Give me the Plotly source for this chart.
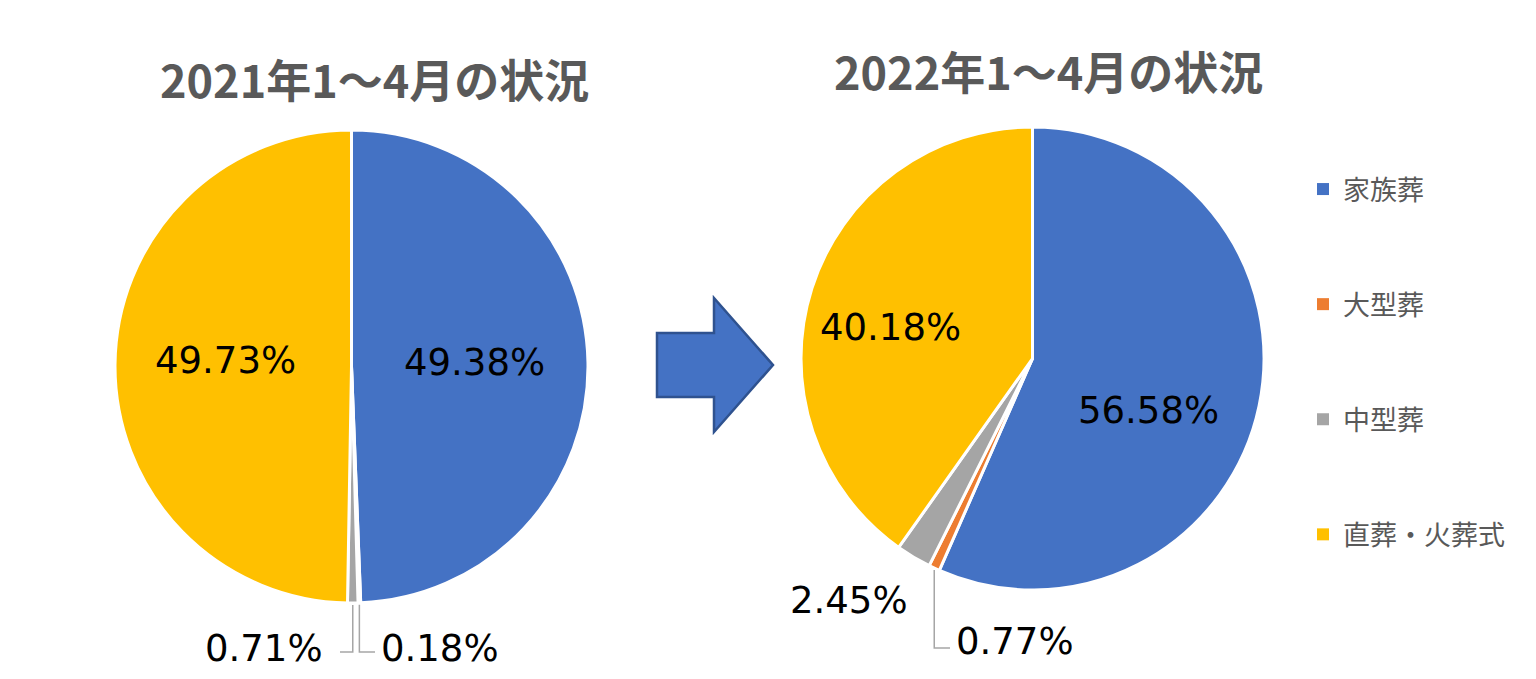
import math
import plotly.graph_objects as go

W, H = 1536, 679

categories = ["家族葬", "大型葬", "中型葬", "直葬・火葬式"]
colors = ["#4472C4", "#ED7D31", "#A5A5A5", "#FFC000"]
values_2021 = [49.38, 0.18, 0.71, 49.73]
values_2022 = [56.58, 0.77, 2.45, 40.18]
titles = ["2021年1～4月の状況", "2022年1～4月の状況"]


def X(px):
    return px / W


def Y(py):
    return 1 - py / H


fig = go.Figure()

# pie geometry in pixels: (left, top, right, bottom)
boxes = [(115, 130, 588, 603), (801, 127, 1264, 590)]


def pie(vals, box):
    l, t, r, b = box
    return go.Pie(
        labels=categories, values=vals, sort=False, direction="clockwise",
        rotation=0, marker=dict(colors=colors, line=dict(color="white", width=3)),
        textinfo="none",
        domain=dict(x=[X(l), X(r)], y=[Y(b), Y(t)]),
        showlegend=False, hoverinfo="label+percent",
    )


fig.add_trace(pie(values_2021, boxes[0]))
fig.add_trace(pie(values_2022, boxes[1]))

# legend entries
for i, (c, col) in enumerate(zip(categories, colors)):
    fig.add_trace(go.Scatter(
        x=[None], y=[None], mode="markers", name=c, legendgroup=str(i),
        marker=dict(symbol="square", size=12, color=col),
    ))

annotations = []
shapes = []

# titles
for ttl, cx, cy in [(titles[0], 374, 78), (titles[1], 1048, 71)]:
    annotations.append(dict(
        text=f"<b>{ttl}</b>", x=X(cx), y=Y(cy), xref="paper", yref="paper",
        showarrow=False, xanchor="center", yanchor="middle",
        font=dict(family="Noto Sans CJK JP", size=45, color="#595959"),
    ))


def slice_point(vals, idx, box):
    l, t, r, b = box
    cx, cy = (l + r) / 2, (t + b) / 2
    rad = min(r - l, b - t) / 2
    tot = sum(vals)
    start = sum(vals[:idx])
    mid = (start + vals[idx] / 2) / tot * 2 * math.pi
    return cx + rad * math.sin(mid), cy - rad * math.cos(mid)


lblfont = dict(family="DejaVu Sans", size=37, color="black")
lc = "#A6A6A6"


def label(text, x, y, anchor="center"):
    annotations.append(dict(text=text, x=X(x), y=Y(y), xref="paper", yref="paper",
                            showarrow=False, xanchor=anchor, yanchor="middle", font=lblfont))


# large slice labels
label(f"{values_2021[0]:.2f}%", 474, 362)
label(f"{values_2021[3]:.2f}%", 225, 360)
label(f"{values_2022[0]:.2f}%", 1148, 410)
label(f"{values_2022[3]:.2f}%", 890, 327)

# left pie small labels
px_, py_ = slice_point(values_2021, 1, boxes[0])
shapes.append(dict(type="path", xref="paper", yref="paper",
                   path=f"M {X(px_)} {Y(py_ + 2)} L {X(px_)} {Y(652)} L {X(375)} {Y(652)}",
                   line=dict(color=lc, width=1.5)))
label(f"{values_2021[1]:.2f}%", 379, 648, "left")
px_, py_ = slice_point(values_2021, 2, boxes[0])
shapes.append(dict(type="path", xref="paper", yref="paper",
                   path=f"M {X(px_)} {Y(py_ + 2)} L {X(px_)} {Y(652)} L {X(340)} {Y(652)}",
                   line=dict(color=lc, width=1.5)))
label(f"{values_2021[2]:.2f}%", 325, 648, "right")

# right pie small labels
px_, py_ = slice_point(values_2022, 1, boxes[1])
shapes.append(dict(type="path", xref="paper", yref="paper",
                   path=f"M {X(px_)} {Y(py_ + 2)} L {X(px_)} {Y(648)} L {X(950)} {Y(648)}",
                   line=dict(color=lc, width=1.5)))
label(f"{values_2022[1]:.2f}%", 954, 641, "left")
label(f"{values_2022[2]:.2f}%", 849, 600)

# arrow
pts = [(657, 333), (714, 333), (714, 298), (773, 365), (714, 432), (714, 397), (657, 397)]
path = "M " + " L ".join(f"{X(a)} {Y(b)}" for a, b in pts) + " Z"
shapes.append(dict(type="path", xref="paper", yref="paper", path=path,
                   fillcolor="#4472C4", line=dict(color="#2F528F", width=2.5)))

fig.update_layout(
    width=W, height=H, margin=dict(l=0, r=0, t=0, b=0),
    paper_bgcolor="white", plot_bgcolor="white",
    xaxis=dict(visible=False, domain=[0.99, 1]), yaxis=dict(visible=False, domain=[0.99, 1]),
    annotations=annotations, shapes=shapes,
    legend=dict(x=X(1303), y=Y(165), xanchor="left", yanchor="top",
                traceorder="grouped", tracegroupgap=77,
                font=dict(family="Noto Sans CJK JP", size=27, color="#595959"),
                bgcolor="rgba(0,0,0,0)"),
    showlegend=True,
)

fig.write_html("out.html")
